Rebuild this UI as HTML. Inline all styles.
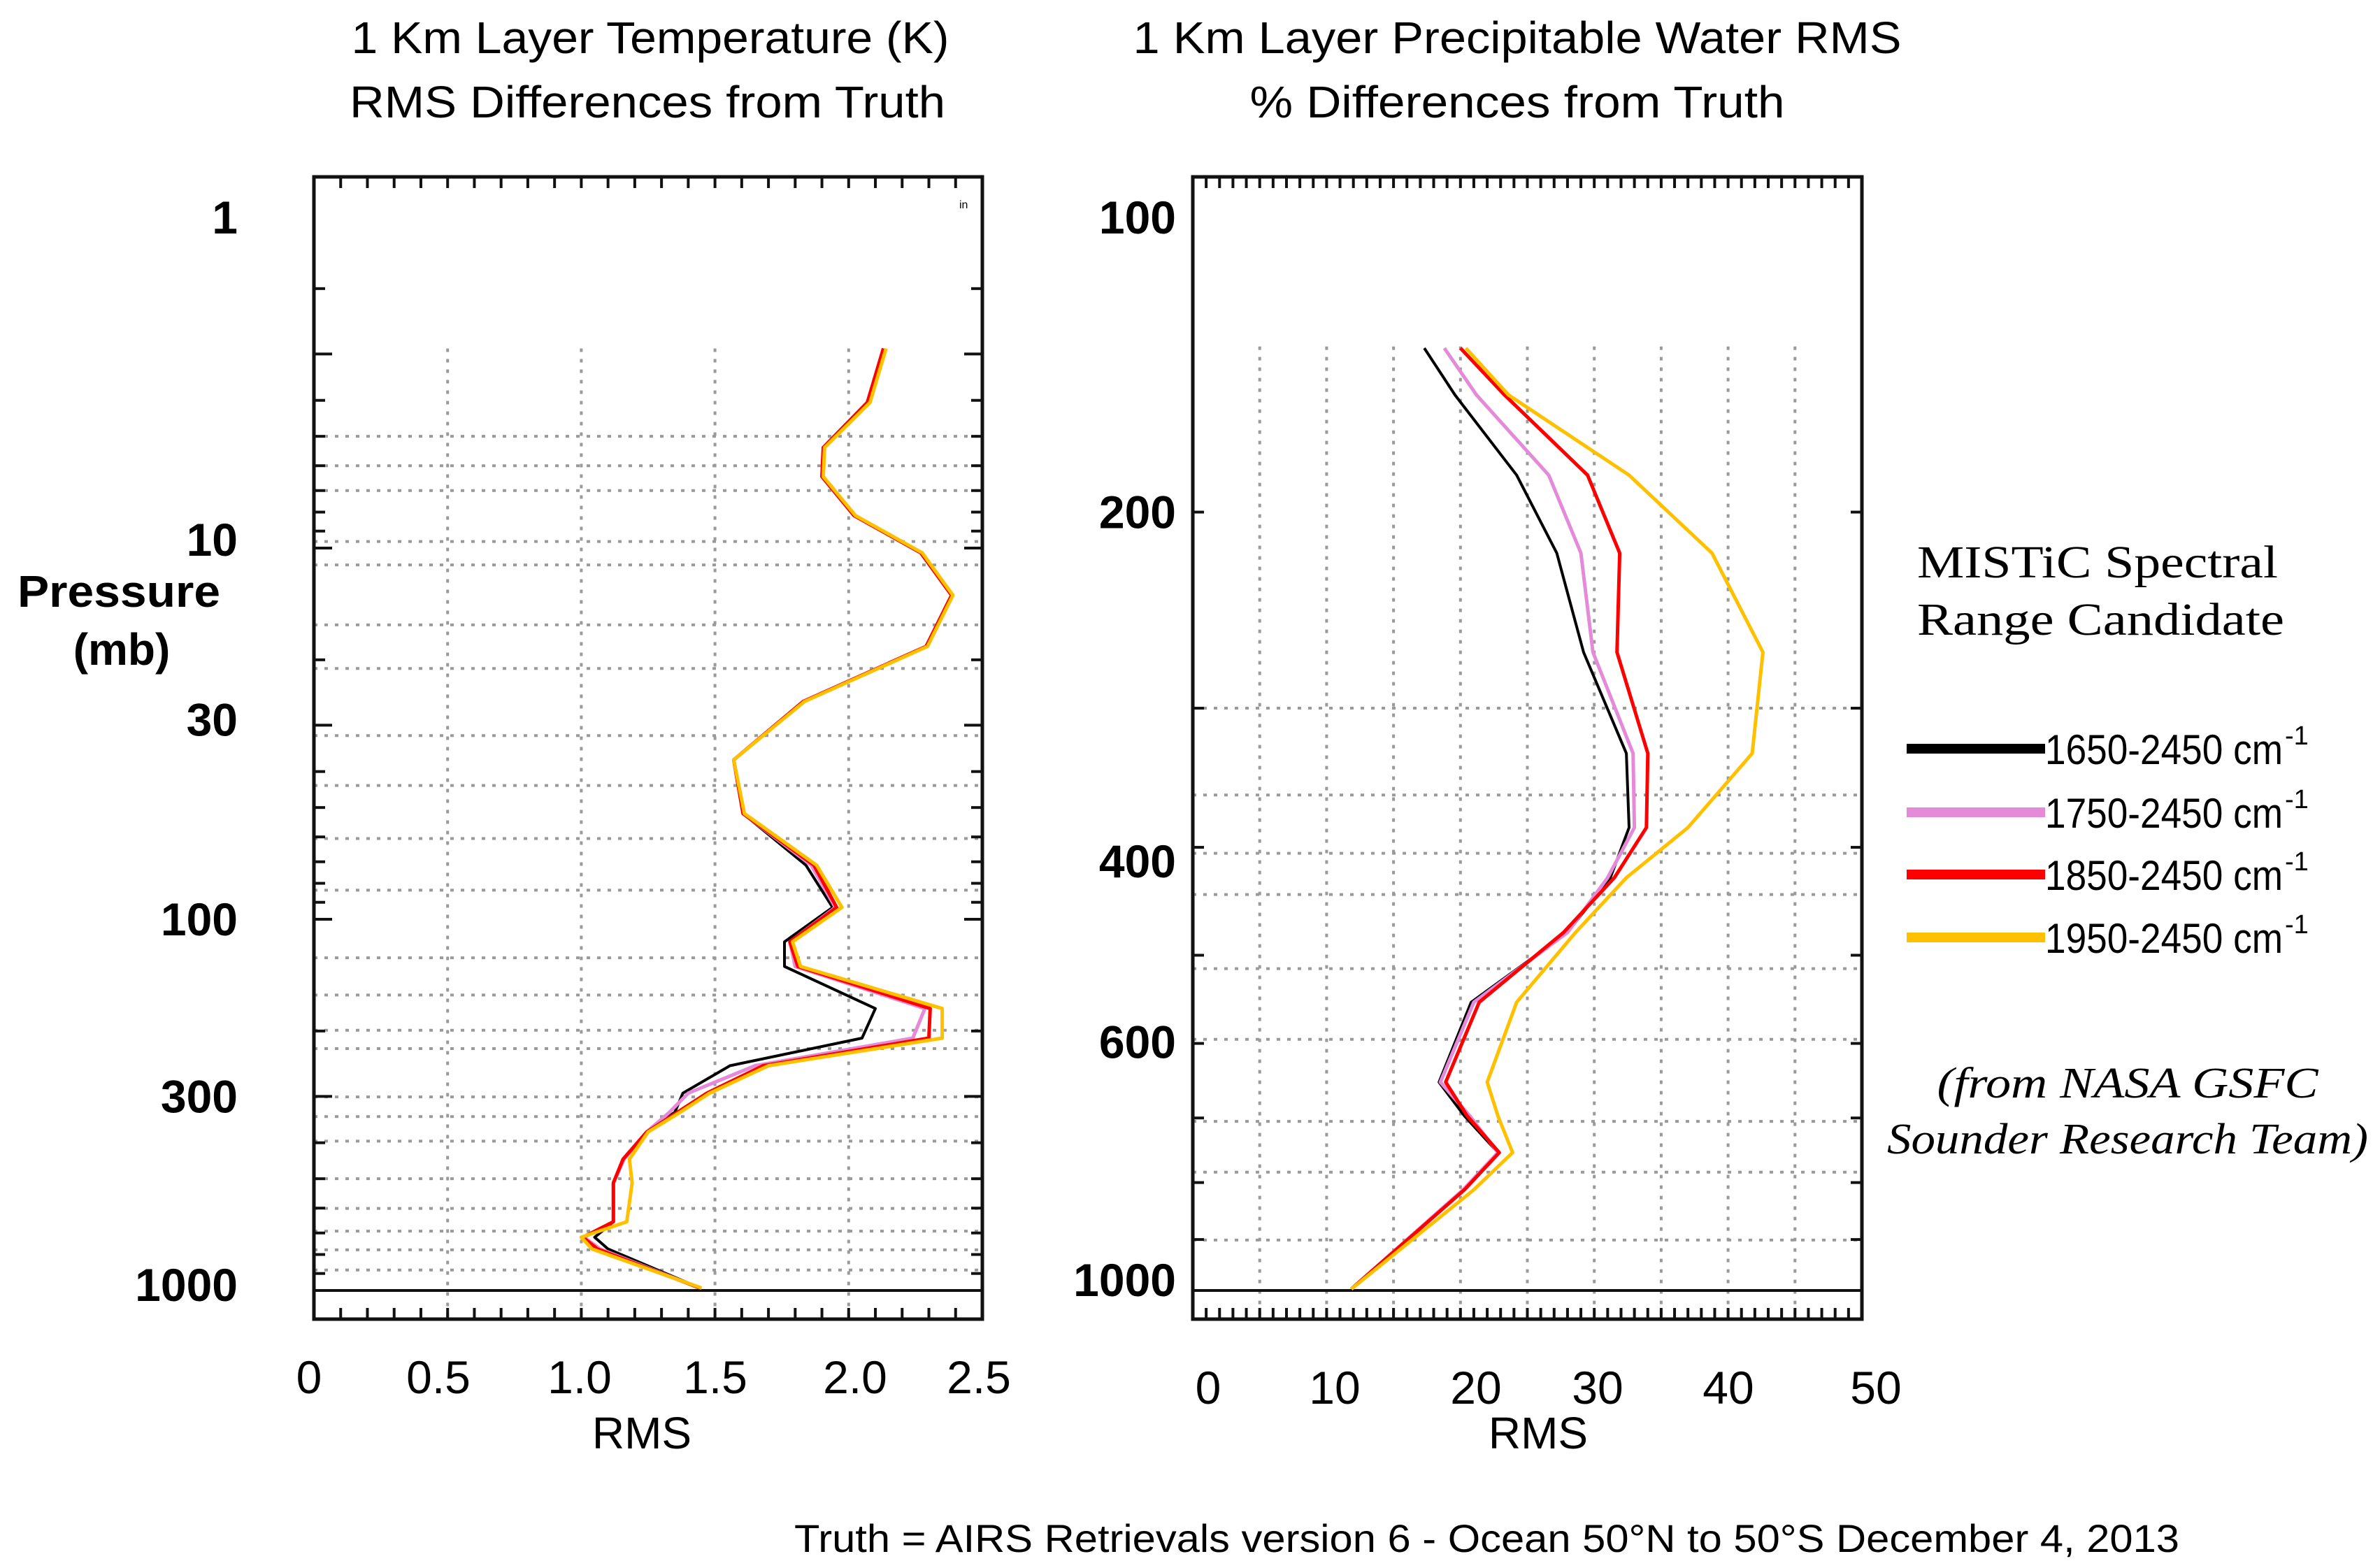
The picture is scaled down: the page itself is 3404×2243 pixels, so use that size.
<!DOCTYPE html>
<html><head><meta charset="utf-8"><style>
html,body{margin:0;padding:0;background:#fff;}
svg{display:block;}
text{font-family:"Liberation Sans",sans-serif;fill:#000;}
.serif{font-family:"Liberation Serif",serif;}
</style></head><body>
<svg id="chart" width="3404" height="2243" viewBox="0 0 3404 2243" xmlns="http://www.w3.org/2000/svg">
<rect width="3404" height="2243" fill="#fff"/>
<text x="930" y="76" font-size="64" text-anchor="middle" textLength="855" lengthAdjust="spacingAndGlyphs">1 Km Layer Temperature (K)</text>
<text x="926" y="168" font-size="64" text-anchor="middle" textLength="852" lengthAdjust="spacingAndGlyphs">RMS Differences from Truth</text>
<text x="2170" y="76" font-size="64" text-anchor="middle" textLength="1099" lengthAdjust="spacingAndGlyphs">1 Km Layer Precipitable Water RMS</text>
<text x="2170" y="168" font-size="64" text-anchor="middle" textLength="765" lengthAdjust="spacingAndGlyphs">% Differences from Truth</text>
<text x="170" y="868" font-size="64" font-weight="bold" text-anchor="middle" textLength="290" lengthAdjust="spacingAndGlyphs">Pressure</text>
<text x="174" y="951" font-size="64" font-weight="bold" text-anchor="middle">(mb)</text>
<text x="918" y="2072" font-size="64" text-anchor="middle">RMS</text>
<text x="2200" y="2072" font-size="64" text-anchor="middle">RMS</text>
<text x="1372" y="298" font-size="16" fill="#555">in</text>
<text class="serif" x="2742" y="826" font-size="66" textLength="516" lengthAdjust="spacingAndGlyphs">MISTiC  Spectral</text>
<text class="serif" x="2742" y="908" font-size="66" textLength="525" lengthAdjust="spacingAndGlyphs">Range Candidate</text>
<text class="serif" x="3043" y="1570" font-size="62" font-style="italic" text-anchor="middle" textLength="545" lengthAdjust="spacingAndGlyphs">(from NASA GSFC</text>
<text class="serif" x="3043" y="1650" font-size="62" font-style="italic" text-anchor="middle" textLength="688" lengthAdjust="spacingAndGlyphs">Sounder Research  Team)</text>
<text x="1136" y="2220" font-size="56" textLength="1981" lengthAdjust="spacingAndGlyphs">Truth  = AIRS Retrievals version 6 - Ocean 50°N to 50°S December 4, 2013</text>
<g id="plots"></g>
</svg>
<script>
// ---- Left chart data (Temperature RMS, K) ----
const tPressure = [2.9,4.05,5.36,6.42,8.17,10.3,13.4,18.4,25.9,37.2,51.9,71.5,92.9,115,134,174,209,248,294,331,374,443,513,653,719,773,985];
const tBlack  = [2.13,2.07,1.905,1.90,2.02,2.27,2.385,2.29,1.83,1.57,1.605,1.84,1.94,1.76,1.76,2.10,2.05,1.556,1.38,1.35,1.245,1.156,1.12,1.12,1.05,1.10,1.444];
const tPink   = [2.13,2.07,1.905,1.90,2.02,2.27,2.385,2.29,1.83,1.57,1.605,1.86,1.95,1.78,1.80,2.285,2.24,1.65,1.40,1.33,1.245,1.16,1.12,1.12,1.01,1.07,1.444];
const tRed    = [2.13,2.07,1.905,1.90,2.02,2.27,2.385,2.29,1.83,1.57,1.605,1.87,1.955,1.78,1.81,2.305,2.30,1.68,1.47,1.36,1.245,1.156,1.12,1.12,1.006,1.06,1.444];
const tYellow = [2.14,2.08,1.91,1.905,2.025,2.275,2.39,2.295,1.835,1.57,1.61,1.88,1.975,1.79,1.82,2.35,2.35,1.70,1.48,1.37,1.25,1.18,1.19,1.17,1.00,1.04,1.45];
const tGridP = [5.0,6.0,7.0,9.6,11.1,16.1,21.1,32,43.6,60.6,83.5,127,160,199,223,301,340,396,500,601,692,777,881];
const tXTicks = ["0","0.5","1.0","1.5","2.0","2.5"];
const tXTickVals = [0,0.5,1.0,1.5,2.0,2.5];
const tYTicks = ["1","10","30","100","300","1000"];
const tYTickVals = [1,10,30,100,300,1000];
// ---- Right chart data (Precipitable water RMS %) ----
const wPressure = [142.5,157,185.3,217.7,267.2,329.4,384,426,477,551,650,697,752,812,997];
const wBlack  = [17.3,19.6,24.2,27.2,29.2,32.4,32.6,31.2,28.0,20.8,18.4,20.3,22.8,20.2,11.85];
const wPink   = [18.8,21.2,26.6,29.0,29.9,32.9,33.0,31.0,28.0,21.0,18.5,20.7,22.8,20.2,11.85];
const wRed    = [20.0,23.3,29.5,31.9,31.7,34.0,33.9,31.5,27.7,21.4,18.9,20.5,22.9,20.3,11.85];
const wYellow = [20.4,23.6,32.6,38.8,42.6,41.8,37.0,32.4,28.6,24.2,22.0,22.8,23.9,21.0,11.85];
const wGridP = [300,359,405,441,514,595,705,783,901];
const wXTicks = ["0","10","20","30","40","50"];
const wXTickVals = [0,10,20,30,40,50];
const wYTicks = ["100","200","400","600","1000"];
const wYTickVals = [100,200,400,600,1000];
const seriesNames = ["1650-2450","1750-2450","1850-2450","1950-2450"];
const seriesColors = ["#000000","#e58ad8","#ff0000","#ffc000"];
const seriesWidths = [4,5,5,5];

const NS = "http://www.w3.org/2000/svg";
const root = document.getElementById('plots');
function mk(tag, attrs, parent){
  const e = document.createElementNS(NS, tag);
  for (const k in attrs) e.setAttribute(k, attrs[k]);
  (parent||root).appendChild(e);
  return e;
}
function drawPanel(cfg){
  const g = mk('g', {});
  
  
  const L=cfg.left,R=cfg.right,T=253,B=1887;
  const xs = v => L + (v - cfg.xmin)/(cfg.xmax-cfg.xmin)*(R-L);
  const ys = p => T + (Math.log10(p) - Math.log10(cfg.ptop))/(Math.log10(1000)-Math.log10(cfg.ptop))*(1846-T);
  cfg.gridP.forEach(p=>{
    const l = mk('line',{x1:L,x2:R,y1:ys(p),y2:ys(p),stroke:'#9a9a9a','stroke-width':4,'stroke-dasharray':'5 10'},g);
    
    
  });
  const gt = ys(cfg.gridTopP);
  for (let v=cfg.gridStep; v<cfg.xmax-1e-9; v+=cfg.gridStep){
    const l = mk('line',{x1:xs(v),x2:xs(v),y1:gt,y2:B,stroke:'#9a9a9a','stroke-width':4,'stroke-dasharray':'5 10'},g);
    
    
  }
  for (let v=cfg.xmin+cfg.minor; v<cfg.xmax-1e-9; v+=cfg.minor){
    mk('line',{x1:xs(v),x2:xs(v),y1:T,y2:T+16,stroke:'#111','stroke-width':4},g);
    mk('line',{x1:xs(v),x2:xs(v),y1:B,y2:B-16,stroke:'#111','stroke-width':4},g);
  }
  for (let d=cfg.ptop; d<1000; d*=10){
    for (let m=1;m<=10;m++){
      const p=d*m; if (p<=cfg.ptop||p>1000) continue;
      const len = (m===10||m===3&&cfg.ptop===1)?26:16;
      mk('line',{x1:L,x2:L+len,y1:ys(p),y2:ys(p),stroke:'#111','stroke-width':4},g);
      mk('line',{x1:R,x2:R-len,y1:ys(p),y2:ys(p),stroke:'#111','stroke-width':4},g);
    }
  }
  const base = mk('line',{x1:L,x2:R,y1:ys(1000),y2:ys(1000),stroke:'#111','stroke-width':4},g);
  
  
  cfg.series.forEach((vals,i)=>{
    const pts = vals.map((v,j)=>xs(v).toFixed(1)+','+ys(cfg.pres[j]).toFixed(1)).join(' ');
    const pl = mk('polyline',{points:pts,fill:'none',stroke:seriesColors[i],'stroke-width':seriesWidths[i],'stroke-linejoin':'round'},g);
    
    
  });
  const fr = mk('rect',{x:L,y:T,width:R-L,height:B-T,fill:'none',stroke:'#111','stroke-width':5},g);
  
  
  cfg.xTicks.forEach((t,i)=>{
    const tx = mk('text',{x:cfg.xLabelX[i],y:cfg.xLabelY,'font-size':66,'text-anchor':'middle'},g);
    tx.textContent=t;
    
    
  });
  cfg.yTicks.forEach((t,i)=>{
    let y = ys(cfg.yTickVals[i]);
    y = Math.max(y, T+58) + cfg.yOff[i];
    const tx = mk('text',{x:cfg.yLabelRight,y:y+23,'font-size':66,'font-weight':'bold','text-anchor':'end'},g);
    tx.textContent=t;
    
    
  });
}
drawPanel({name:'temperature-rms-chart',prefix:'temp',left:449,right:1405,xmin:0,xmax:2.5,ptop:1,
  gridP:tGridP,gridTopP:2.9,gridStep:0.5,minor:0.1,pres:tPressure,series:[tBlack,tPink,tRed,tYellow],
  xTicks:tXTicks,xLabelX:[442,627,829,1023,1223,1400],xLabelY:1993,yTicks:tYTicks,yTickVals:tYTickVals,yLabelRight:340,
  yOff:[0,-12,-8,0,0,-8]});
drawPanel({name:'water-rms-chart',prefix:'water',left:1706,right:2663,xmin:0,xmax:50,ptop:100,
  gridP:wGridP,gridTopP:142,gridStep:5,minor:1,pres:wPressure,series:[wBlack,wPink,wRed,wYellow],
  xTicks:wXTicks,xLabelX:[1728,1909,2111,2285,2472,2683],xLabelY:2008,yTicks:wYTicks,yTickVals:wYTickVals,yLabelRight:1682,
  yOff:[0,0,20,-2,-15]});
const lg = mk('g',{});


const legY = [1071,1162,1251,1341];
seriesNames.forEach((n,i)=>{
  const ln = mk('line',{x1:2727,x2:2925,y1:legY[i],y2:legY[i],stroke:seriesColors[i],'stroke-width':14},lg);
  
  
  const t = mk('text',{x:2925,y:legY[i]+22,'font-size':60,textLength:340,lengthAdjust:'spacingAndGlyphs'},lg);
  t.textContent = n+' cm';
  
  
  const s = mk('text',{x:3268,y:legY[i]-6,'font-size':38},lg);
  s.textContent='-1';
  
  
});
</script>
</body></html>
